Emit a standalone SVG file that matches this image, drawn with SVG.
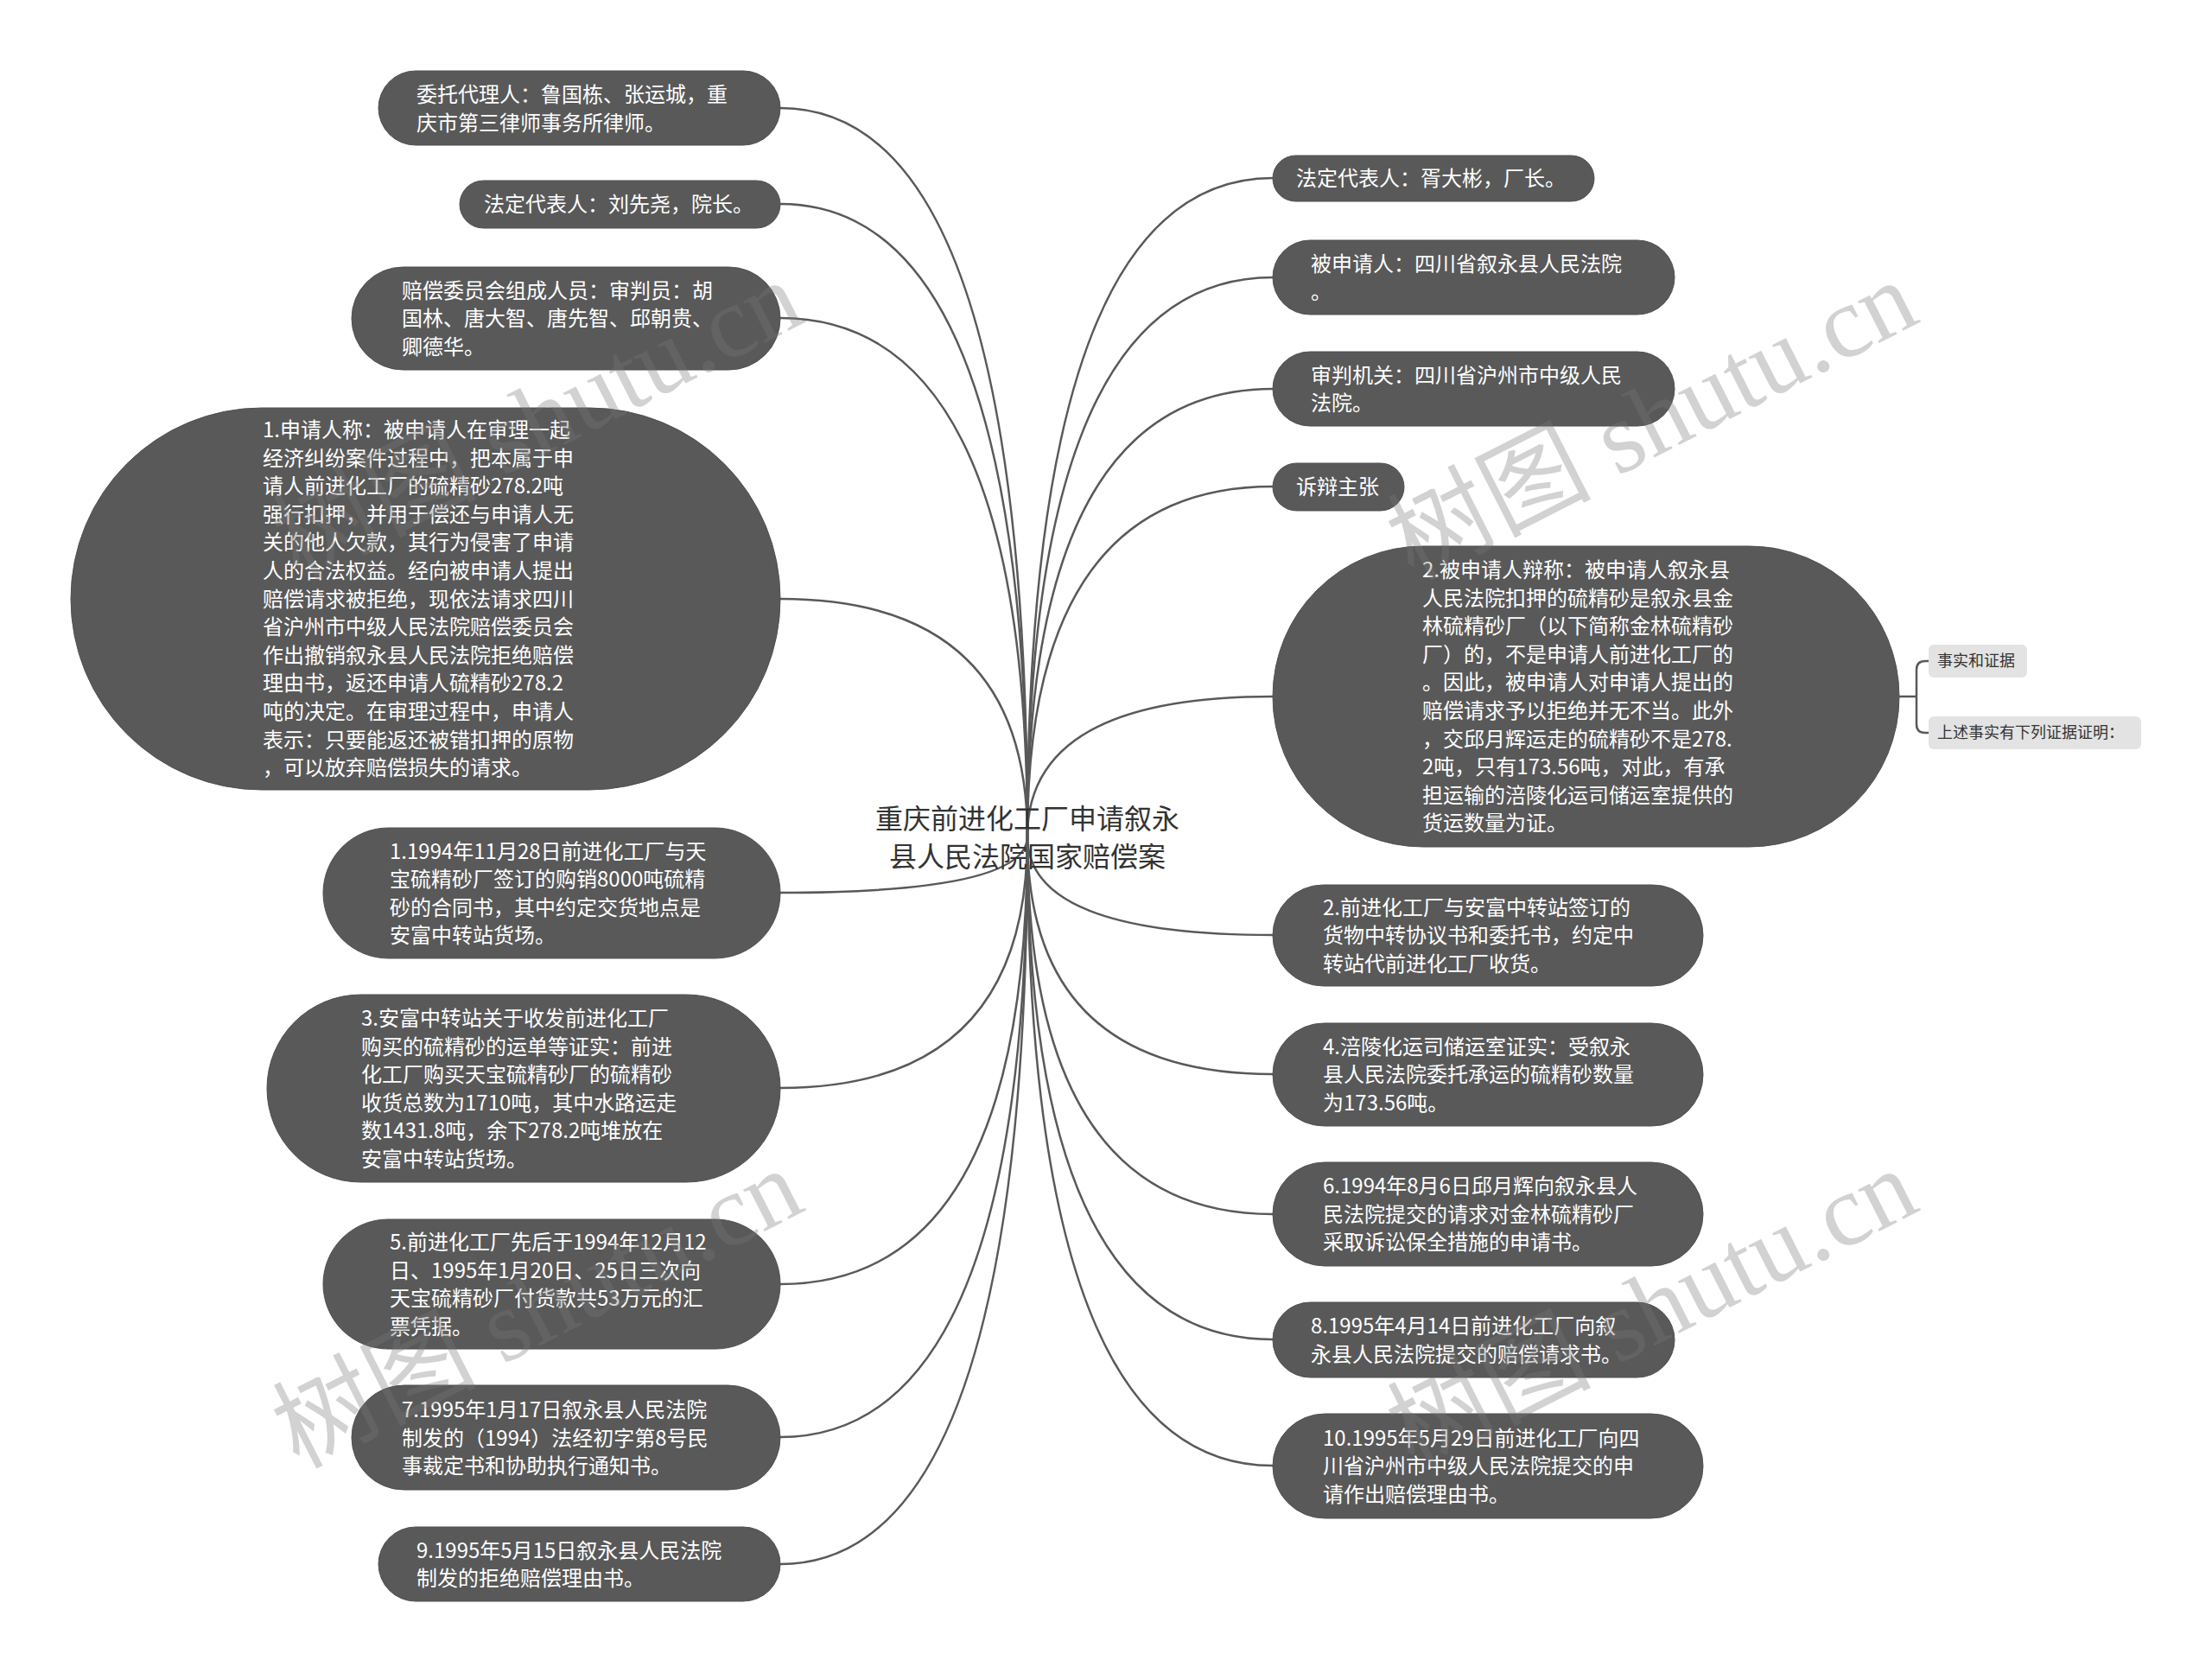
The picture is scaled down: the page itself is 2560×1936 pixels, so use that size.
<svg xmlns="http://www.w3.org/2000/svg" width="2560" height="1936" viewBox="0 0 2560 1936">
<style>
.n{fill:#595959;stroke:#505050;stroke-width:1}
.t{fill:#ffffff;font-family:"Noto Sans CJK SC","Noto Sans",sans-serif;font-size:24px}
.c{fill:none;stroke:#595959;stroke-width:2.5}
.s{fill:#e3e3e3}
.st{fill:#333333;font-family:"Noto Sans CJK SC","Noto Sans",sans-serif;font-size:18px}
.root{fill:#333333;font-family:"Noto Sans CJK SC","Noto Sans",sans-serif;font-size:32px;text-anchor:middle}
.wm{fill:#7a7a7a;opacity:0.33;font-family:"Liberation Serif","Noto Sans CJK SC",serif;font-size:118px}
</style>
<rect width="2560" height="1936" fill="#ffffff"/>
<g id="connectors">
<path class="c" d="M1189 968 Q1189 125 903 125"/>
<path class="c" d="M1189 968 Q1189 236 903 236"/>
<path class="c" d="M1189 968 Q1189 368 903 368"/>
<path class="c" d="M1189 968 Q1189 693 903 693"/>
<path class="c" d="M1189 968 Q1189 1033 903 1033"/>
<path class="c" d="M1189 968 Q1189 1259 903 1259"/>
<path class="c" d="M1189 968 Q1189 1486 903 1486"/>
<path class="c" d="M1189 968 Q1189 1663 903 1663"/>
<path class="c" d="M1189 968 Q1189 1810 903 1810"/>
<path class="c" d="M1189 968 Q1189 206 1473 206"/>
<path class="c" d="M1189 968 Q1189 321 1473 321"/>
<path class="c" d="M1189 968 Q1189 450 1473 450"/>
<path class="c" d="M1189 968 Q1189 563 1473 563"/>
<path class="c" d="M1189 968 Q1189 806 1473 806"/>
<path class="c" d="M1189 968 Q1189 1082 1473 1082"/>
<path class="c" d="M1189 968 Q1189 1243 1473 1243"/>
<path class="c" d="M1189 968 Q1189 1405 1473 1405"/>
<path class="c" d="M1189 968 Q1189 1550 1473 1550"/>
<path class="c" d="M1189 968 Q1189 1696 1473 1696"/>
<path class="c" d="M2198 806 H2218"/>
<path class="c" d="M2232 765 H2228 Q2218 765 2218 775 V838 Q2218 848 2228 848 H2232"/>
</g>
<g id="root">
<text class="root" x="1189" y="959">重庆前进化工厂申请叙永</text>
<text class="root" x="1189" y="1003">县人民法院国家赔偿案</text>
</g>
<g id="n1"><rect class="n" x="438" y="82" width="465" height="86" rx="43"/>
<text class="t" x="482" y="118">委托代理人：鲁国栋、张运城，重</text>
<text class="t" x="482" y="151">庆市第三律师事务所律师。</text></g>
<g id="n2"><rect class="n" x="532" y="209" width="371" height="55" rx="27.5"/>
<text class="t" x="560" y="245">法定代表人：刘先尧，院长。</text></g>
<g id="n3"><rect class="n" x="407" y="309" width="496" height="119" rx="59.5"/>
<text class="t" x="465" y="345">赔偿委员会组成人员：审判员：胡</text>
<text class="t" x="465" y="377">国林、唐大智、唐先智、邱朝贵、</text>
<text class="t" x="465" y="410">卿德华。</text></g>
<g id="n4"><rect class="n" x="82" y="472" width="821" height="442" rx="221"/>
<text class="t" x="304" y="506">1.申请人称：被申请人在审理一起</text>
<text class="t" x="304" y="539">经济纠纷案件过程中，把本属于申</text>
<text class="t" x="304" y="571">请人前进化工厂的硫精砂278.2吨</text>
<text class="t" x="304" y="604">强行扣押，并用于偿还与申请人无</text>
<text class="t" x="304" y="636">关的他人欠款，其行为侵害了申请</text>
<text class="t" x="304" y="669">人的合法权益。经向被申请人提出</text>
<text class="t" x="304" y="702">赔偿请求被拒绝，现依法请求四川</text>
<text class="t" x="304" y="734">省沪州市中级人民法院赔偿委员会</text>
<text class="t" x="304" y="767">作出撤销叙永县人民法院拒绝赔偿</text>
<text class="t" x="304" y="799">理由书，返还申请人硫精砂278.2</text>
<text class="t" x="304" y="832">吨的决定。在审理过程中，申请人</text>
<text class="t" x="304" y="865">表示：只要能返还被错扣押的原物</text>
<text class="t" x="304" y="897">，可以放弃赔偿损失的请求。</text></g>
<g id="n5"><rect class="n" x="374" y="958" width="529" height="151" rx="75.5"/>
<text class="t" x="451" y="994">1.1994年11月28日前进化工厂与天</text>
<text class="t" x="451" y="1026">宝硫精砂厂签订的购销8000吨硫精</text>
<text class="t" x="451" y="1059">砂的合同书，其中约定交货地点是</text>
<text class="t" x="451" y="1091">安富中转站货场。</text></g>
<g id="n6"><rect class="n" x="309" y="1151" width="594" height="217" rx="108.5"/>
<text class="t" x="418" y="1187">3.安富中转站关于收发前进化工厂</text>
<text class="t" x="418" y="1220">购买的硫精砂的运单等证实：前进</text>
<text class="t" x="418" y="1252">化工厂购买天宝硫精砂厂的硫精砂</text>
<text class="t" x="418" y="1285">收货总数为1710吨，其中水路运走</text>
<text class="t" x="418" y="1317">数1431.8吨，余下278.2吨堆放在</text>
<text class="t" x="418" y="1350">安富中转站货场。</text></g>
<g id="n7"><rect class="n" x="374" y="1411" width="529" height="150" rx="75"/>
<text class="t" x="451" y="1446">5.前进化工厂先后于1994年12月12</text>
<text class="t" x="451" y="1479">日、1995年1月20日、25日三次向</text>
<text class="t" x="451" y="1511">天宝硫精砂厂付货款共53万元的汇</text>
<text class="t" x="451" y="1544">票凭据。</text></g>
<g id="n8"><rect class="n" x="407" y="1603" width="496" height="121" rx="60.5"/>
<text class="t" x="465" y="1640">7.1995年1月17日叙永县人民法院</text>
<text class="t" x="465" y="1673">制发的（1994）法经初字第8号民</text>
<text class="t" x="465" y="1705">事裁定书和协助执行通知书。</text></g>
<g id="n9"><rect class="n" x="438" y="1767" width="465" height="86" rx="43"/>
<text class="t" x="482" y="1803">9.1995年5月15日叙永县人民法院</text>
<text class="t" x="482" y="1835">制发的拒绝赔偿理由书。</text></g>
<g id="n10"><rect class="n" x="1473" y="180" width="372" height="53" rx="26.5"/>
<text class="t" x="1500" y="215">法定代表人：胥大彬，厂长。</text></g>
<g id="n11"><rect class="n" x="1473" y="278" width="465" height="86" rx="43"/>
<text class="t" x="1517" y="314">被申请人：四川省叙永县人民法院</text>
<text class="t" x="1517" y="346">。</text></g>
<g id="n12"><rect class="n" x="1473" y="407" width="465" height="86" rx="43"/>
<text class="t" x="1517" y="443">审判机关：四川省沪州市中级人民</text>
<text class="t" x="1517" y="475">法院。</text></g>
<g id="n13"><rect class="n" x="1473" y="536" width="152" height="55" rx="27.5"/>
<text class="t" x="1500" y="572">诉辩主张</text></g>
<g id="n14"><rect class="n" x="1473" y="632" width="725" height="348" rx="174"/>
<text class="t" x="1646" y="668">2.被申请人辩称：被申请人叙永县</text>
<text class="t" x="1646" y="701">人民法院扣押的硫精砂是叙永县金</text>
<text class="t" x="1646" y="733">林硫精砂厂（以下简称金林硫精砂</text>
<text class="t" x="1646" y="766">厂）的，不是申请人前进化工厂的</text>
<text class="t" x="1646" y="798">。因此，被申请人对申请人提出的</text>
<text class="t" x="1646" y="831">赔偿请求予以拒绝并无不当。此外</text>
<text class="t" x="1646" y="864">，交邱月辉运走的硫精砂不是278.</text>
<text class="t" x="1646" y="896">2吨，只有173.56吨，对此，有承</text>
<text class="t" x="1646" y="929">担运输的涪陵化运司储运室提供的</text>
<text class="t" x="1646" y="961">货运数量为证。</text></g>
<g id="n14a"><rect class="s" x="2232" y="746" width="114" height="38" rx="6"/>
<text class="st" x="2242" y="771">事实和证据</text></g>
<g id="n14b"><rect class="s" x="2232" y="829" width="246" height="38" rx="6"/>
<text class="st" x="2242" y="854">上述事实有下列证据证明：</text></g>
<g id="n15"><rect class="n" x="1473" y="1024" width="498" height="117" rx="58.5"/>
<text class="t" x="1531" y="1059">2.前进化工厂与安富中转站签订的</text>
<text class="t" x="1531" y="1091">货物中转协议书和委托书，约定中</text>
<text class="t" x="1531" y="1124">转站代前进化工厂收货。</text></g>
<g id="n16"><rect class="n" x="1473" y="1184" width="498" height="119" rx="59.5"/>
<text class="t" x="1531" y="1220">4.涪陵化运司储运室证实：受叙永</text>
<text class="t" x="1531" y="1252">县人民法院委托承运的硫精砂数量</text>
<text class="t" x="1531" y="1285">为173.56吨。</text></g>
<g id="n17"><rect class="n" x="1473" y="1345" width="498" height="120" rx="60"/>
<text class="t" x="1531" y="1381">6.1994年8月6日邱月辉向叙永县人</text>
<text class="t" x="1531" y="1414">民法院提交的请求对金林硫精砂厂</text>
<text class="t" x="1531" y="1446">采取诉讼保全措施的申请书。</text></g>
<g id="n18"><rect class="n" x="1473" y="1507" width="465" height="87" rx="43.5"/>
<text class="t" x="1517" y="1543">8.1995年4月14日前进化工厂向叙</text>
<text class="t" x="1517" y="1576">永县人民法院提交的赔偿请求书。</text></g>
<g id="n19"><rect class="n" x="1473" y="1636" width="498" height="121" rx="60.5"/>
<text class="t" x="1531" y="1673">10.1995年5月29日前进化工厂向四</text>
<text class="t" x="1531" y="1705">川省沪州市中级人民法院提交的申</text>
<text class="t" x="1531" y="1738">请作出赔偿理由书。</text></g>
<g id="watermarks">
<text class="wm" transform="translate(345 672) rotate(-27)">树图 shutu.cn</text>
<text class="wm" transform="translate(1635 672) rotate(-27)">树图 shutu.cn</text>
<text class="wm" transform="translate(345 1700) rotate(-27)">树图 shutu.cn</text>
<text class="wm" transform="translate(1635 1700) rotate(-27)">树图 shutu.cn</text>
</g>
</svg>
